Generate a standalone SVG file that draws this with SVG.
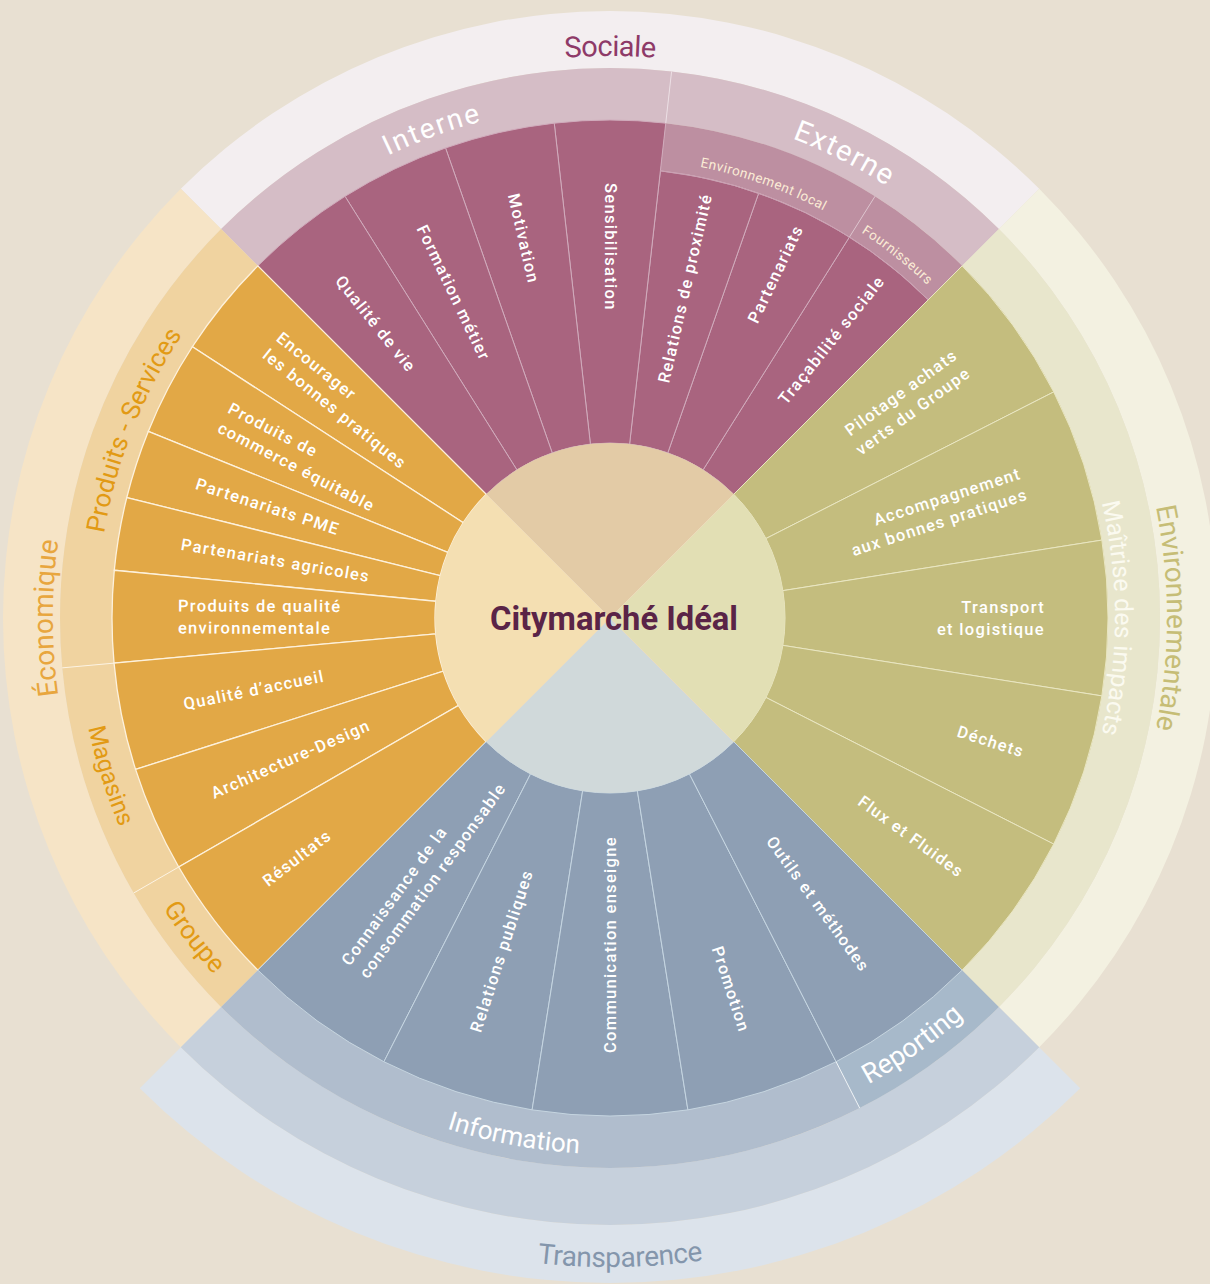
<svg xmlns="http://www.w3.org/2000/svg" width="1210" height="1284" viewBox="0 0 1210 1284">
  <defs>
    <style>
      .lbl { font-family: Roboto, "Liberation Sans", sans-serif; font-size: 16.5px; font-weight: 500; fill: #ffffff; letter-spacing: 1.3px; }
      .arc { font-family: Roboto, "Liberation Sans", sans-serif; font-weight: 400; }
      .w-soc { fill: #a9647f; stroke: #d0abbc; stroke-width: 1; }
      .w-eco { fill: #e2a846; stroke: #fdf1dc; stroke-width: 1.3; }
      .w-env { fill: #c4bd7e; stroke: #e9e6c2; stroke-width: 1; }
      .w-tra { fill: #8e9fb4; stroke: #c5d5e1; stroke-width: 1; }
      .div { fill: none; stroke-width: 1; }
    </style>
    <!-- baselines for curved headings; clockwise = tops outward, counter-clockwise = tops inward -->
    <path id="p-sociale" d="M212.6,220.6 A562,562 0 0 1 1007.4,220.6"/>
    <path id="p-interne" d="M247.3,255.3 A513,513 0 0 1 654.7,106.96"/>
    <path id="p-externe" d="M610,105 A513,513 0 0 1 1022.9,313.6"/>
    <path id="p-envloc" d="M601.97,158.07 A460,460 0 0 1 905.7,265.6"/>
    <path id="p-fourn" d="M767.3,185.7 A460,460 0 0 1 995,366"/>
    <path id="p-prodserv" d="M99,662.7 A513,513 0 0 1 266.7,236.8"/>
    <path id="p-eco" d="M216.1,1011.9 A557,557 0 0 1 216.1,224.1"/>
    <path id="p-magasins" d="M79,571.5 A533,533 0 0 0 201.7,960.6"/>
    <path id="p-groupe" d="M95.2,755.9 A533,533 0 0 0 343.5,1079.6"/>
    <path id="p-maitrise" d="M1047.3,365.5 A505,505 0 0 1 1047.3,870.5"/>
    <path id="p-envir" d="M1092.4,339.5 A557,557 0 0 1 1092.4,896.5"/>
    <path id="p-info" d="M302.6,1057.1 A536,536 0 0 0 739.7,1138.1"/>
    <path id="p-report" d="M747.9,1132.8 A533,533 0 0 0 1049.8,919.1"/>
    <path id="p-transp" d="M285.5,1180.1 A649,649 0 0 0 952,1169.6"/>
  </defs>

  <rect width="1210" height="1284" fill="#e8e0d2"/>

  <!-- Sociale (top) -->
  <g id="sociale">
    <path d="M1039.21,188.79 A607,607 0 0 0 180.79,188.79 L221.09,229.09 A550,550 0 0 1 998.91,229.09 Z" fill="#f3eef0"/>
    <text class="arc" font-size="29" fill="#8e3a68" text-anchor="middle" letter-spacing="-0.6"><textPath href="#p-sociale" startOffset="50%">Sociale</textPath></text>
  </g>
  <g id="interne">
    <path d="M671.58,71.46 A550,550 0 0 0 221.09,229.09 L257.86,265.86 A498,498 0 0 1 665.76,123.13 Z" fill="#d5bdc6"/>
    <text class="arc" font-size="28" fill="#ffffff" text-anchor="middle" letter-spacing="2"><textPath href="#p-interne" startOffset="50%">Interne</textPath></text>
  </g>
  <g id="externe">
    <path d="M998.91,229.09 A550,550 0 0 0 671.58,71.46 L665.76,123.13 A498,498 0 0 1 962.14,265.86 Z" fill="#d5bdc6"/>
    <text class="arc" font-size="29" fill="#ffffff" text-anchor="middle" letter-spacing="1.5"><textPath href="#p-externe" startOffset="50%">Externe</textPath></text>
  </g>
  <g id="environnement-local">
    <path d="M874.99,196.34 A498,498 0 0 0 665.76,123.13 L660.39,170.83 A450,450 0 0 1 849.45,237 Z" fill="#bd8fa1"/>
    <text class="arc" font-size="13.5" fill="#fbecd6" text-anchor="middle" letter-spacing="0.5"><textPath href="#p-envloc" startOffset="50%">Environnement local</textPath></text>
  </g>
  <g id="fournisseurs">
    <path d="M962.14,265.86 A498,498 0 0 0 874.99,196.34 L849.45,237 A450,450 0 0 1 928.2,299.8 Z" fill="#bd8fa1"/>
    <text class="arc" font-size="13.5" fill="#fbecd6" text-anchor="middle" letter-spacing="0.6"><textPath href="#p-fourn" startOffset="50%">Fournisseurs</textPath></text>
  </g>

  <g id="tracabilite-sociale">
    <path class="w-soc" d="M928.2,299.8 A450,450 0 0 0 849.45,237 L703.12,469.83 A175,175 0 0 1 733.74,494.26 Z"/>
    <text class="lbl" text-anchor="end" transform="translate(881.2,277.9) rotate(-51.43)" y="5.5">Traçabilité sociale</text>
  </g>
  <g id="partenariats">
    <path class="w-soc" d="M849.45,237 A450,450 0 0 0 758.63,193.25 L667.8,452.82 A175,175 0 0 1 703.12,469.83 Z"/>
    <text class="lbl" text-anchor="end" transform="translate(798.7,226.1) rotate(-64.29)" y="5.5">Partenariats</text>
  </g>
  <g id="relations-proximite">
    <path class="w-soc" d="M758.63,193.25 A450,450 0 0 0 660.39,170.83 L629.59,444.1 A175,175 0 0 1 667.8,452.82 Z"/>
    <text class="lbl" text-anchor="end" transform="translate(706.8,193.9) rotate(-77.14)" y="5.5">Relations de proximité</text>
  </g>
  <g id="sensibilisation">
    <path class="w-soc" d="M665.76,123.13 A498,498 0 0 0 554.24,123.13 L590.41,444.1 A175,175 0 0 1 629.59,444.1 Z"/>
    <text class="lbl" transform="translate(610,183) rotate(90)" y="5.5">Sensibilisation</text>
  </g>
  <g id="motivation">
    <path class="w-soc" d="M554.24,123.13 A498,498 0 0 0 445.52,147.95 L552.2,452.82 A175,175 0 0 1 590.41,444.1 Z"/>
    <text class="lbl" transform="translate(513.2,193.9) rotate(77.14)" y="5.5">Motivation</text>
  </g>
  <g id="formation-metier">
    <path class="w-soc" d="M445.52,147.95 A498,498 0 0 0 345.01,196.34 L516.88,469.83 A175,175 0 0 1 552.2,452.82 Z"/>
    <text class="lbl" transform="translate(421.3,226.1) rotate(64.29)" y="5.5">Formation métier</text>
  </g>
  <g id="qualite-de-vie">
    <path class="w-soc" d="M345.01,196.34 A498,498 0 0 0 257.86,265.86 L486.26,494.26 A175,175 0 0 1 516.88,469.83 Z"/>
    <text class="lbl" transform="translate(338.8,277.9) rotate(51.43)" y="5.5">Qualité de vie</text>
  </g>

  <!-- Économique (left) -->
  <g id="economique">
    <path d="M180.79,188.79 A607,607 0 0 0 180.79,1047.21 L221.09,1006.91 A550,550 0 0 1 221.09,229.09 Z" fill="#f6e4c6"/>
    <text class="arc" font-size="28" fill="#e8a63e" text-anchor="middle"><textPath href="#p-eco" startOffset="50%">Économique</textPath></text>
  </g>
  <g id="produits-services">
    <path d="M221.09,229.09 A550,550 0 0 0 62.27,667.85 L114.05,663.13 A498,498 0 0 1 257.86,265.86 Z" fill="#f0d3a0"/>
    <text class="arc" font-size="26" fill="#e29a14" font-weight="500" text-anchor="middle"><textPath href="#p-prodserv" startOffset="50%">Produits - Services</textPath></text>
  </g>
  <g id="magasins">
    <path d="M62.27,667.85 A550,550 0 0 0 133.68,893 L178.72,867 A498,498 0 0 1 114.05,663.13 Z" fill="#f0d3a0"/>
    <text class="arc" font-size="24" fill="#e29a14" font-weight="500" text-anchor="middle"><textPath href="#p-magasins" startOffset="50%">Magasins</textPath></text>
  </g>
  <g id="groupe">
    <path d="M133.68,893 A550,550 0 0 0 221.09,1006.91 L257.86,970.14 A498,498 0 0 1 178.72,867 Z" fill="#f0d3a0"/>
    <text class="arc" font-size="26" fill="#e29a14" font-weight="500" text-anchor="middle"><textPath href="#p-groupe" startOffset="50%">Groupe</textPath></text>
  </g>

  <g id="encourager">
    <path class="w-eco" d="M257.86,265.86 A498,498 0 0 0 192.34,346.77 L463.23,522.69 A175,175 0 0 1 486.26,494.26 Z"/>
    <text class="lbl" transform="translate(271.9,344.2) rotate(39)"><tspan x="0" y="-5.5">Encourager</tspan><tspan x="0" y="16.5">les bonnes pratiques</tspan></text>
  </g>
  <g id="commerce-equitable">
    <path class="w-eco" d="M192.34,346.77 A498,498 0 0 0 148.26,431.44 L447.74,552.44 A175,175 0 0 1 463.23,522.69 Z"/>
    <text class="lbl" transform="translate(224.1,417.1) rotate(27.5)"><tspan x="0" y="-5.5">Produits de</tspan><tspan x="0" y="16.5">commerce équitable</tspan></text>
  </g>
  <g id="partenariats-pme">
    <path class="w-eco" d="M148.26,431.44 A498,498 0 0 0 126.79,497.52 L440.2,575.66 A175,175 0 0 1 447.74,552.44 Z"/>
    <text class="lbl" transform="translate(196.3,483.6) rotate(18)" y="5.5">Partenariats PME</text>
  </g>
  <g id="partenariats-agricoles">
    <path class="w-eco" d="M126.79,497.52 A498,498 0 0 0 114.29,570.27 L435.8,601.23 A175,175 0 0 1 440.2,575.66 Z"/>
    <text class="lbl" transform="translate(181.3,544.3) rotate(9.75)" y="5.5">Partenariats agricoles</text>
  </g>
  <g id="qualite-environnementale">
    <path class="w-eco" d="M114.29,570.27 A498,498 0 0 0 114.05,663.13 L435.72,633.86 A175,175 0 0 1 435.8,601.23 Z"/>
    <text class="lbl" transform="translate(178,617) rotate(0.15)"><tspan x="0" y="-5.5">Produits de qualité</tspan><tspan x="0" y="16.5">environnementale</tspan></text>
  </g>
  <g id="qualite-accueil">
    <path class="w-eco" d="M114.05,663.13 A498,498 0 0 0 135.58,769.41 L443.28,671.21 A175,175 0 0 1 435.72,633.86 Z"/>
    <text class="lbl" transform="translate(183.7,704.4) rotate(-11.45)" y="5.5">Qualité d’accueil</text>
  </g>
  <g id="architecture-design">
    <path class="w-eco" d="M135.58,769.41 A498,498 0 0 0 178.72,867 L458.44,705.5 A175,175 0 0 1 443.28,671.21 Z"/>
    <text class="lbl" transform="translate(212.1,793.9) rotate(-23.85)" y="5.5">Architecture-Design</text>
  </g>
  <g id="resultats">
    <path class="w-eco" d="M178.72,867 A498,498 0 0 0 257.86,970.14 L486.26,741.74 A175,175 0 0 1 458.44,705.5 Z"/>
    <text class="lbl" transform="translate(264.9,882.8) rotate(-37.5)" y="5.5">Résultats</text>
  </g>

  <!-- Environnementale (right) -->
  <g id="environnementale">
    <path d="M1039.21,1047.21 A607,607 0 0 0 1039.21,188.79 L998.91,229.09 A550,550 0 0 1 998.91,1006.91 Z" fill="#f3f1e1"/>
    <text class="arc" font-size="28" fill="#c6bd76" text-anchor="middle"><textPath href="#p-envir" startOffset="50%">Environnementale</textPath></text>
  </g>
  <g id="maitrise-impacts">
    <path d="M998.91,1006.91 A550,550 0 0 0 998.91,229.09 L962.14,265.86 A498,498 0 0 1 962.14,970.14 Z" fill="#e8e6cc"/>
    <text class="arc" font-size="25" fill="#fbfaf0" text-anchor="middle"><textPath href="#p-maitrise" startOffset="50%">Maîtrise des impacts</textPath></text>
  </g>

  <g id="pilotage-achats">
    <path class="w-env" d="M1053.72,391.91 A498,498 0 0 0 962.14,265.86 L733.74,494.26 A175,175 0 0 1 765.93,538.55 Z"/>
    <text class="lbl" text-anchor="end" transform="translate(961.9,362.3) rotate(-36)"><tspan x="0" y="-5.5">Pilotage achats</tspan><tspan x="0" y="16.5">verts du Groupe</tspan></text>
  </g>
  <g id="accompagnement">
    <path class="w-env" d="M1101.87,540.1 A498,498 0 0 0 1053.72,391.91 L765.93,538.55 A175,175 0 0 1 782.85,590.63 Z"/>
    <text class="lbl" text-anchor="end" transform="translate(1023.7,483.6) rotate(-18)"><tspan x="0" y="-5.5">Accompagnement</tspan><tspan x="0" y="16.5">aux bonnes pratiques</tspan></text>
  </g>
  <g id="transport-logistique">
    <path class="w-env" d="M1101.87,695.9 A498,498 0 0 0 1101.87,540.1 L782.85,590.63 A175,175 0 0 1 782.85,645.37 Z"/>
    <text class="lbl" text-anchor="end" transform="translate(1045,618)"><tspan x="0" y="-5.5">Transport</tspan><tspan x="0" y="16.5">et logistique</tspan></text>
  </g>
  <g id="dechets">
    <path class="w-env" d="M1053.72,844.09 A498,498 0 0 0 1101.87,695.9 L782.85,645.37 A175,175 0 0 1 765.93,697.45 Z"/>
    <text class="lbl" text-anchor="end" transform="translate(1023.7,752.4) rotate(18)" y="5.5">Déchets</text>
  </g>
  <g id="flux-fluides">
    <path class="w-env" d="M962.14,970.14 A498,498 0 0 0 1053.72,844.09 L765.93,697.45 A175,175 0 0 1 733.74,741.74 Z"/>
    <text class="lbl" text-anchor="end" transform="translate(961.9,873.7) rotate(36)" y="5.5">Flux et Fluides</text>
  </g>

  <!-- Transparence (bottom) -->
  <g id="transparence">
    <path d="M139.77,1088.23 A665,665 0 0 0 1080.23,1088.23 L1039.21,1047.21 A607,607 0 0 1 180.79,1047.21 Z" fill="#dce3eb"/>
    <path d="M180.79,1047.21 A607,607 0 0 0 1039.21,1047.21 L998.91,1006.91 A550,550 0 0 1 221.09,1006.91 Z" fill="#c6d0dc"/>
    <text class="arc" font-size="28" fill="#8496ac" text-anchor="middle" letter-spacing="-0.3"><textPath href="#p-transp" startOffset="50%">Transparence</textPath></text>
  </g>
  <g id="information">
    <path d="M221.09,1006.91 A550,550 0 0 0 859.69,1108.06 L836.09,1061.72 A498,498 0 0 1 257.86,970.14 Z" fill="#b0bdcd"/>
    <text class="arc" font-size="26" fill="#ffffff" text-anchor="middle"><textPath href="#p-info" startOffset="50%">Information</textPath></text>
  </g>
  <g id="reporting">
    <path d="M859.69,1108.06 A550,550 0 0 0 998.91,1006.91 L962.14,970.14 A498,498 0 0 1 836.09,1061.72 Z" fill="#a7b9ca"/>
    <text class="arc" font-size="27" fill="#ffffff" font-weight="500" text-anchor="middle"><textPath href="#p-report" startOffset="50%">Reporting</textPath></text>
  </g>

  <g id="connaissance-consommation">
    <path class="w-tra" d="M257.86,970.14 A498,498 0 0 0 383.91,1061.72 L530.55,773.93 A175,175 0 0 1 486.26,741.74 Z"/>
    <text class="lbl" transform="translate(354.3,969.9) rotate(-54)"><tspan x="0" y="-5.5">Connaissance de la</tspan><tspan x="0" y="16.5">consommation responsable</tspan></text>
  </g>
  <g id="relations-publiques">
    <path class="w-tra" d="M383.91,1061.72 A498,498 0 0 0 532.1,1109.87 L582.63,790.85 A175,175 0 0 1 530.55,773.93 Z"/>
    <text class="lbl" transform="translate(475.6,1031.7) rotate(-72)" y="5.5">Relations publiques</text>
  </g>
  <g id="communication-enseigne">
    <path class="w-tra" d="M532.1,1109.87 A498,498 0 0 0 687.9,1109.87 L637.37,790.85 A175,175 0 0 1 582.63,790.85 Z"/>
    <text class="lbl" transform="translate(610,1053) rotate(-90)" y="5.5">Communication enseigne</text>
  </g>
  <g id="promotion">
    <path class="w-tra" d="M687.9,1109.87 A498,498 0 0 0 836.09,1061.72 L689.45,773.93 A175,175 0 0 1 637.37,790.85 Z"/>
    <text class="lbl" text-anchor="end" transform="translate(744.4,1031.7) rotate(72)" y="5.5">Promotion</text>
  </g>
  <g id="outils-methodes">
    <path class="w-tra" d="M836.09,1061.72 A498,498 0 0 0 962.14,970.14 L733.74,741.74 A175,175 0 0 1 689.45,773.93 Z"/>
    <text class="lbl" text-anchor="end" transform="translate(865.7,969.9) rotate(54)" y="5.5">Outils et méthodes</text>
  </g>

  <!-- dividers inside the sub-category bands -->
  <g id="connectors">
    <line class="div" x1="665.76" y1="123.13" x2="671.58" y2="71.46" stroke="#ecdfe5"/>
    <line class="div" x1="849.45" y1="237" x2="874.99" y2="196.34" stroke="#dcc2cd"/>
    <path class="div" d="M928.2,299.8 A450,450 0 0 0 660.39,170.83" stroke="#caa0b2"/>
    <line class="div" x1="836.09" y1="1061.72" x2="859.69" y2="1108.06" stroke="#eef3f7"/>
    <line class="div" x1="114.05" y1="663.13" x2="62.27" y2="667.85" stroke="#fdf3e2"/>
    <line class="div" x1="178.72" y1="867" x2="133.68" y2="893" stroke="#fdf3e2"/>
  </g>

  <!-- hub -->
  <g id="hub">
    <path d="M610,618 L733.74,494.26 A175,175 0 0 0 486.26,494.26 Z" fill="#e3cba6"/>
    <path d="M610,618 L486.26,494.26 A175,175 0 0 0 486.26,741.74 Z" fill="#f4dfb2"/>
    <path d="M610,618 L486.26,741.74 A175,175 0 0 0 733.74,741.74 Z" fill="#d0d9da"/>
    <path d="M610,618 L733.74,741.74 A175,175 0 0 0 733.74,494.26 Z" fill="#e2dfb4"/>
    <g stroke="#efdcbc" stroke-width="0.8" opacity="0.8">
      <line x1="486.26" y1="494.26" x2="733.74" y2="741.74"/>
      <line x1="733.74" y1="494.26" x2="486.26" y2="741.74"/>
    </g>
    <text x="614" y="630" text-anchor="middle" font-family="Roboto, 'Liberation Sans', sans-serif" font-size="34" font-weight="700" fill="#5a2447" textLength="248" lengthAdjust="spacingAndGlyphs">Citymarché Idéal</text>
  </g>
</svg>
